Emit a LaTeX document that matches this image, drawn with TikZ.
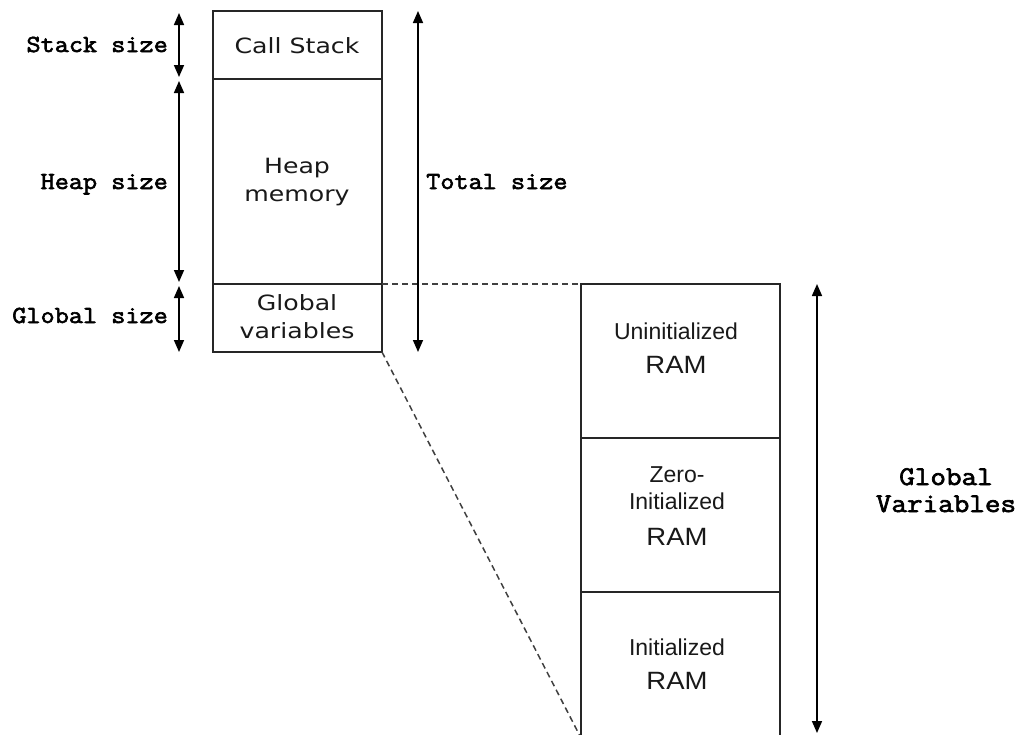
\documentclass[tikz,border=0pt]{standalone}
\usepackage{fontspec}
\usetikzlibrary{arrows.meta}
\newfontfamily\cellfont[FakeStretch=1.2]{DejaVu Sans}
\newfontfamily\ramcellfont{Liberation Sans}
\newfontfamily\ramwidefont[FakeStretch=1.1]{Liberation Sans}
\newfontfamily\dimfont[FakeBold=2.5,FakeStretch=1.12]{Latin Modern Mono}

\tikzset{
  membox/.style={draw=black!85, line width=1.5pt, fill=white, inner sep=0pt, outer sep=0pt},
  leftbox/.style={membox, minimum width=169pt},
  rightbox/.style={membox, minimum width=199pt},
  celltext/.style={inner sep=0pt, anchor=base, text=black!90, font=\cellfont\fontsize{21}{26}\selectfont},
  ramtext/.style={inner sep=0pt, anchor=base, text=black!90, font=\ramcellfont\fontsize{23}{28}\selectfont},
  rambig/.style={inner sep=0pt, anchor=base, text=black!90, font=\ramwidefont\fontsize{25}{30}\selectfont},
  dimlabel/.style={inner sep=0pt, font=\dimfont\fontsize{24.5}{28}\selectfont},
  biglabel/.style={inner sep=0pt, anchor=base, font=\dimfont\fontsize{27}{30}\selectfont},
  dimarrow/.style={line width=1.6pt, {Triangle[length=12pt,width=10pt]}-{Triangle[length=12pt,width=10pt]}},
  zoomline/.style={draw=black!75, line width=1.5pt, dash pattern=on 6pt off 4pt}
}

\begin{document}
\begin{tikzpicture}[x=1pt, y=-1pt]
  \useasboundingbox (0,0) rectangle (1023,734);

  % program memory map
  \node[leftbox, minimum height=68pt]  (stack) at (297.5,45)    {};
  \node[leftbox, minimum height=205pt] (heap)  at (297.5,181.5) {};
  \node[leftbox, minimum height=68pt]  (glob)  at (297.5,318)   {};

  \node[celltext] (stacktxt) at (297,53)  {Call Stack};
  \node[celltext] (heaptxtA) at (297,173) {Heap};
  \node[celltext] (heaptxtB) at (297,201) {memory};
  \node[celltext] (globtxtA) at (297,310) {Global};
  \node[celltext] (globtxtB) at (297,338) {variables};

  % expanded global variable area
  \node[rightbox, minimum height=154pt] (uninit) at (680.5,361) {};
  \node[rightbox, minimum height=154pt] (zero)   at (680.5,515) {};
  \node[rightbox, minimum height=146pt] (init)   at (680.5,665) {};

  \node[ramtext] (uninitA) at (676,339) {Uninitialized};
  \node[rambig]  (uninitB) at (676,373) {RAM};
  \node[ramtext] (zeroA)   at (677,482) {Zero-};
  \node[ramtext] (zeroB)   at (677,509) {Initialized};
  \node[rambig]  (zeroC)   at (677,545) {RAM};
  \node[ramtext] (initA)   at (677,655) {Initialized};
  \node[rambig]  (initB)   at (677,689) {RAM};

  % zoom lines from the global block to its expansion
  \draw[zoomline] (glob.north east) -- (uninit.north west);
  \draw[zoomline] (glob.south east) -- (init.south west);

  % dimension arrows
  \coordinate (ax) at (179,0);
  \coordinate (tx) at (418,0);
  \coordinate (gx) at (817,0);
  \coordinate (gend) at (817,733);

  \draw[dimarrow] ([yshift=-2pt]stack.north -| ax) -- ([yshift=2pt]stack.south -| ax);
  \draw[dimarrow] ([yshift=-2pt]heap.north -| ax)  -- ([yshift=2pt]heap.south -| ax);
  \draw[dimarrow] ([yshift=-2pt]glob.north -| ax)  -- (glob.south -| ax);
  \draw[dimarrow] (stack.north -| tx) -- (glob.south -| tx);
  \draw[dimarrow] (uninit.north -| gx) -- (gend);

  % dimension labels
  \node[dimlabel, anchor=base east] (lstack) at (168,52)  {Stack size};
  \node[dimlabel, anchor=base east] (lheap)  at (168,189) {Heap size};
  \node[dimlabel, anchor=base east] (lglob)  at (168,323) {Global size};
  \node[dimlabel, anchor=base west] (ltotal) at (426,189) {Total size};
  \node[biglabel] (lgvA) at (946,485) {Global};
  \node[biglabel] (lgvB) at (946,512) {Variables};
\end{tikzpicture}
\end{document}
